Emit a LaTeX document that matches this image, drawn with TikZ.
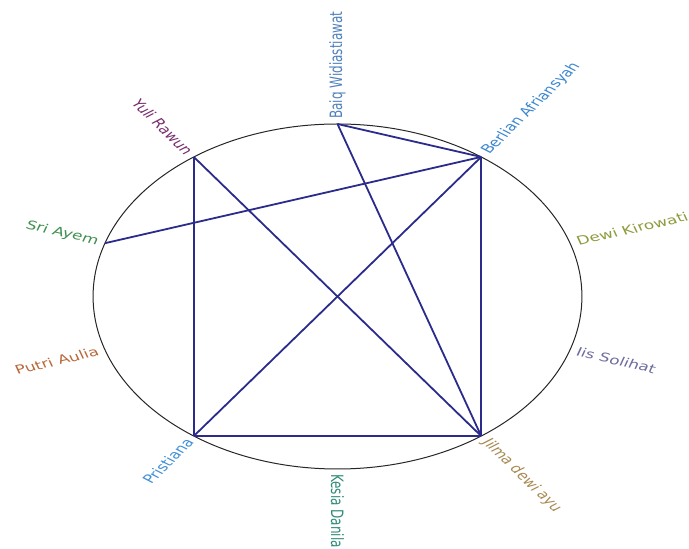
\documentclass[tikz,border=0pt]{standalone}
\usepackage{fontspec}
\setmainfont{DejaVu Sans}
\usepackage{xcolor}
\usepackage{tikz}
\usetikzlibrary{calc}

\definecolor{edgeblue}{HTML}{2B2B8C}
\definecolor{cbaiq}{HTML}{4F80BC}
\definecolor{cberlian}{HTML}{3B86CF}
\definecolor{cdewi}{HTML}{8E9A3C}
\definecolor{ciis}{HTML}{6C6CA0}
\definecolor{cjilma}{HTML}{A88A52}
\definecolor{ckesia}{HTML}{2F8A78}
\definecolor{cpristiana}{HTML}{3F8FD6}
\definecolor{cputri}{HTML}{B8693A}
\definecolor{csri}{HTML}{3F8F50}
\definecolor{cyuli}{HTML}{7A2E6E}

\tikzset{
  edge/.style={edgeblue, line width=1.8pt},
  namel/.style={inner sep=1.5pt, font=\fontsize{12}{14}\selectfont, anchor=west},
  namer/.style={inner sep=1.5pt, font=\fontsize{12}{14}\selectfont, anchor=east}
}

\begin{document}
\begin{tikzpicture}[x=1pt, y=1pt]
    \useasboundingbox (0, 0) rectangle (689, 549);

    \begin{scope}[shift={(337.5, 252.5)}, xscale=1.417, transform shape]
    % Ring
    \draw[black!85, line width=1pt] (0, 0) circle (172.5);

    % Vertices
    \coordinate (baiq) at (90:172.5);
    \coordinate (berlian) at (54:172.5);
    \coordinate (dewi) at (18:172.5);
    \coordinate (iis) at (-18:172.5);
    \coordinate (jilma) at (-54:172.5);
    \coordinate (kesia) at (-90:172.5);
    \coordinate (pristiana) at (-126:172.5);
    \coordinate (putri) at (-162:172.5);
    \coordinate (sri) at (162:172.5);
    \coordinate (yuli) at (126:172.5);

    % Links
    \draw[edge] (baiq) -- (berlian);
    \draw[edge] (baiq) -- (jilma);
    \draw[edge] (berlian) -- (sri);
    \draw[edge] (berlian) -- (jilma);
    \draw[edge] (berlian) -- (pristiana);
    \draw[edge] (yuli) -- (pristiana);
    \draw[edge] (yuli) -- (jilma);
    \draw[edge] (pristiana) -- (jilma);

    % Names
    \node[namel, rotate=90, cbaiq] (baiqname) at (90:176) {Baiq Widiastiawat};
    \node[namel, rotate=54, cberlian] (berlianname) at (54:176) {Berlian Afriansyah};
    \node[namel, rotate=18, cdewi] (dewiname) at (18:176) {Dewi Kirowati};
    \node[namel, rotate=-18, ciis] (iisname) at (-18:176) {Iis Solihat};
    \node[namel, rotate=-54, cjilma] (jilmaname) at (-54:176) {Jilma dewi ayu};
    \node[namel, rotate=-90, ckesia] (kesianame) at (-90:176) {Kesia Danila};
    \node[namer, rotate=54, cpristiana] (pristiananame) at (-126:176) {Pristiana};
    \node[namer, rotate=18, cputri] (putriname) at (-162:176) {Putri Aulia};
    \node[namer, rotate=-18, csri] (sriname) at (162:176) {Sri Ayem};
    \node[namer, rotate=-54, cyuli] (yuliname) at (126:176) {Yuli Rawun};
    \end{scope}

\end{tikzpicture}
\end{document}
